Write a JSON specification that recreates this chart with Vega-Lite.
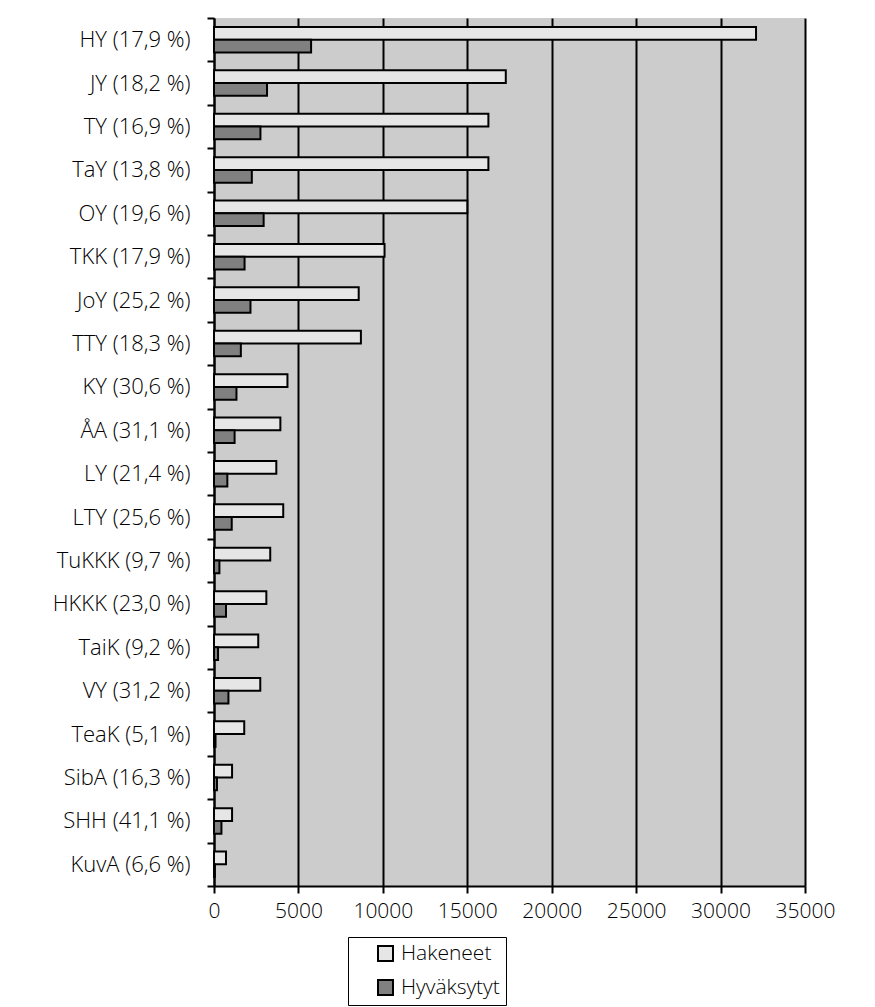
{
  "$schema": "https://vega.github.io/schema/vega-lite/v6.json",
  "autosize": "none",
  "padding": {"left": 214, "top": 18, "right": 70, "bottom": 121},
  "width": 591,
  "height": 868,
  "background": "white",
  "config": {
    "view": {"fill": "#cccccc", "stroke": null},
    "font": "Open Sans"
  },
  "data": {
    "values": [
      {"yliopisto": "HY (17,9 %)", "sarja": "Hakeneet", "maara": 32100},
      {"yliopisto": "HY (17,9 %)", "sarja": "Hyväksytyt", "maara": 5750},
      {"yliopisto": "JY (18,2 %)", "sarja": "Hakeneet", "maara": 17280},
      {"yliopisto": "JY (18,2 %)", "sarja": "Hyväksytyt", "maara": 3140},
      {"yliopisto": "TY (16,9 %)", "sarja": "Hakeneet", "maara": 16250},
      {"yliopisto": "TY (16,9 %)", "sarja": "Hyväksytyt", "maara": 2750},
      {"yliopisto": "TaY (13,8 %)", "sarja": "Hakeneet", "maara": 16250},
      {"yliopisto": "TaY (13,8 %)", "sarja": "Hyväksytyt", "maara": 2240},
      {"yliopisto": "OY (19,6 %)", "sarja": "Hakeneet", "maara": 15000},
      {"yliopisto": "OY (19,6 %)", "sarja": "Hyväksytyt", "maara": 2940},
      {"yliopisto": "TKK (17,9 %)", "sarja": "Hakeneet", "maara": 10100},
      {"yliopisto": "TKK (17,9 %)", "sarja": "Hyväksytyt", "maara": 1810},
      {"yliopisto": "JoY (25,2 %)", "sarja": "Hakeneet", "maara": 8570},
      {"yliopisto": "JoY (25,2 %)", "sarja": "Hyväksytyt", "maara": 2160},
      {"yliopisto": "TTY (18,3 %)", "sarja": "Hakeneet", "maara": 8700},
      {"yliopisto": "TTY (18,3 %)", "sarja": "Hyväksytyt", "maara": 1590},
      {"yliopisto": "KY (30,6 %)", "sarja": "Hakeneet", "maara": 4350},
      {"yliopisto": "KY (30,6 %)", "sarja": "Hyväksytyt", "maara": 1330},
      {"yliopisto": "ÅA (31,1 %)", "sarja": "Hakeneet", "maara": 3930},
      {"yliopisto": "ÅA (31,1 %)", "sarja": "Hyväksytyt", "maara": 1220},
      {"yliopisto": "LY (21,4 %)", "sarja": "Hakeneet", "maara": 3690},
      {"yliopisto": "LY (21,4 %)", "sarja": "Hyväksytyt", "maara": 790},
      {"yliopisto": "LTY (25,6 %)", "sarja": "Hakeneet", "maara": 4100},
      {"yliopisto": "LTY (25,6 %)", "sarja": "Hyväksytyt", "maara": 1050},
      {"yliopisto": "TuKKK (9,7 %)", "sarja": "Hakeneet", "maara": 3330},
      {"yliopisto": "TuKKK (9,7 %)", "sarja": "Hyväksytyt", "maara": 320},
      {"yliopisto": "HKKK (23,0 %)", "sarja": "Hakeneet", "maara": 3100},
      {"yliopisto": "HKKK (23,0 %)", "sarja": "Hyväksytyt", "maara": 710},
      {"yliopisto": "TaiK (9,2 %)", "sarja": "Hakeneet", "maara": 2620},
      {"yliopisto": "TaiK (9,2 %)", "sarja": "Hyväksytyt", "maara": 240},
      {"yliopisto": "VY (31,2 %)", "sarja": "Hakeneet", "maara": 2740},
      {"yliopisto": "VY (31,2 %)", "sarja": "Hyväksytyt", "maara": 855},
      {"yliopisto": "TeaK (5,1 %)", "sarja": "Hakeneet", "maara": 1790},
      {"yliopisto": "TeaK (5,1 %)", "sarja": "Hyväksytyt", "maara": 90},
      {"yliopisto": "SibA (16,3 %)", "sarja": "Hakeneet", "maara": 1070},
      {"yliopisto": "SibA (16,3 %)", "sarja": "Hyväksytyt", "maara": 175},
      {"yliopisto": "SHH (41,1 %)", "sarja": "Hakeneet", "maara": 1070},
      {"yliopisto": "SHH (41,1 %)", "sarja": "Hyväksytyt", "maara": 440},
      {"yliopisto": "KuvA (6,6 %)", "sarja": "Hakeneet", "maara": 710},
      {"yliopisto": "KuvA (6,6 %)", "sarja": "Hyväksytyt", "maara": 47}
    ]
  },
  "mark": {"type": "bar", "stroke": "black", "strokeWidth": 2, "cornerRadius": 0},
  "encoding": {
    "y": {
      "field": "yliopisto",
      "type": "nominal",
      "sort": null,
      "scale": {"paddingInner": 0, "paddingOuter": 0},
      "axis": {
        "title": null,
        "tickBand": "extent",
        "domainColor": "black",
        "domainWidth": 2,
        "tickColor": "black",
        "tickWidth": 2,
        "tickSize": 7,
        "labelPadding": 17,
        "labelFontSize": 22,
        "labelColor": "black",
        "labelFont": "Open Sans",
        "labelFontWeight": 300,
        "grid": false
      }
    },
    "yOffset": {
      "field": "sarja",
      "type": "nominal",
      "sort": ["Hakeneet", "Hyväksytyt"],
      "scale": {"paddingInner": 0, "paddingOuter": 0.7}
    },
    "x": {
      "field": "maara",
      "type": "quantitative",
      "scale": {"domain": [0, 35000], "nice": false},
      "axis": {
        "title": null,
        "values": [0, 5000, 10000, 15000, 20000, 25000, 30000, 35000],
        "format": "d",
        "domainColor": "black",
        "domainWidth": 2,
        "tickColor": "black",
        "tickWidth": 2,
        "tickSize": 7,
        "grid": true,
        "gridColor": "black",
        "gridWidth": 2,
        "gridOpacity": 1,
        "labelPadding": 7,
        "labelFontSize": 21,
        "labelFontWeight": 300,
        "labelColor": "black",
        "labelFont": "Open Sans",
        "labelFlush": false
      }
    },
    "fill": {
      "field": "sarja",
      "type": "nominal",
      "scale": {"domain": ["Hakeneet", "Hyväksytyt"], "range": ["#e6e6e6", "#808080"]},
      "legend": {
        "title": null,
        "orient": "none",
        "legendX": 134,
        "legendY": 919,
        "direction": "vertical",
        "strokeColor": "black",
        "fillColor": "white",
        "padding": 6,
        "symbolOffset": 21,
        "symbolType": "square",
        "symbolSize": 225,
        "symbolStrokeColor": "black",
        "symbolStrokeWidth": 2,
        "symbolOpacity": 1,
        "labelFontSize": 21,
        "labelFontWeight": 300,
        "labelColor": "black",
        "labelFont": "Open Sans",
        "labelOffset": 5,
        "rowPadding": 11
      }
    }
  }
}
